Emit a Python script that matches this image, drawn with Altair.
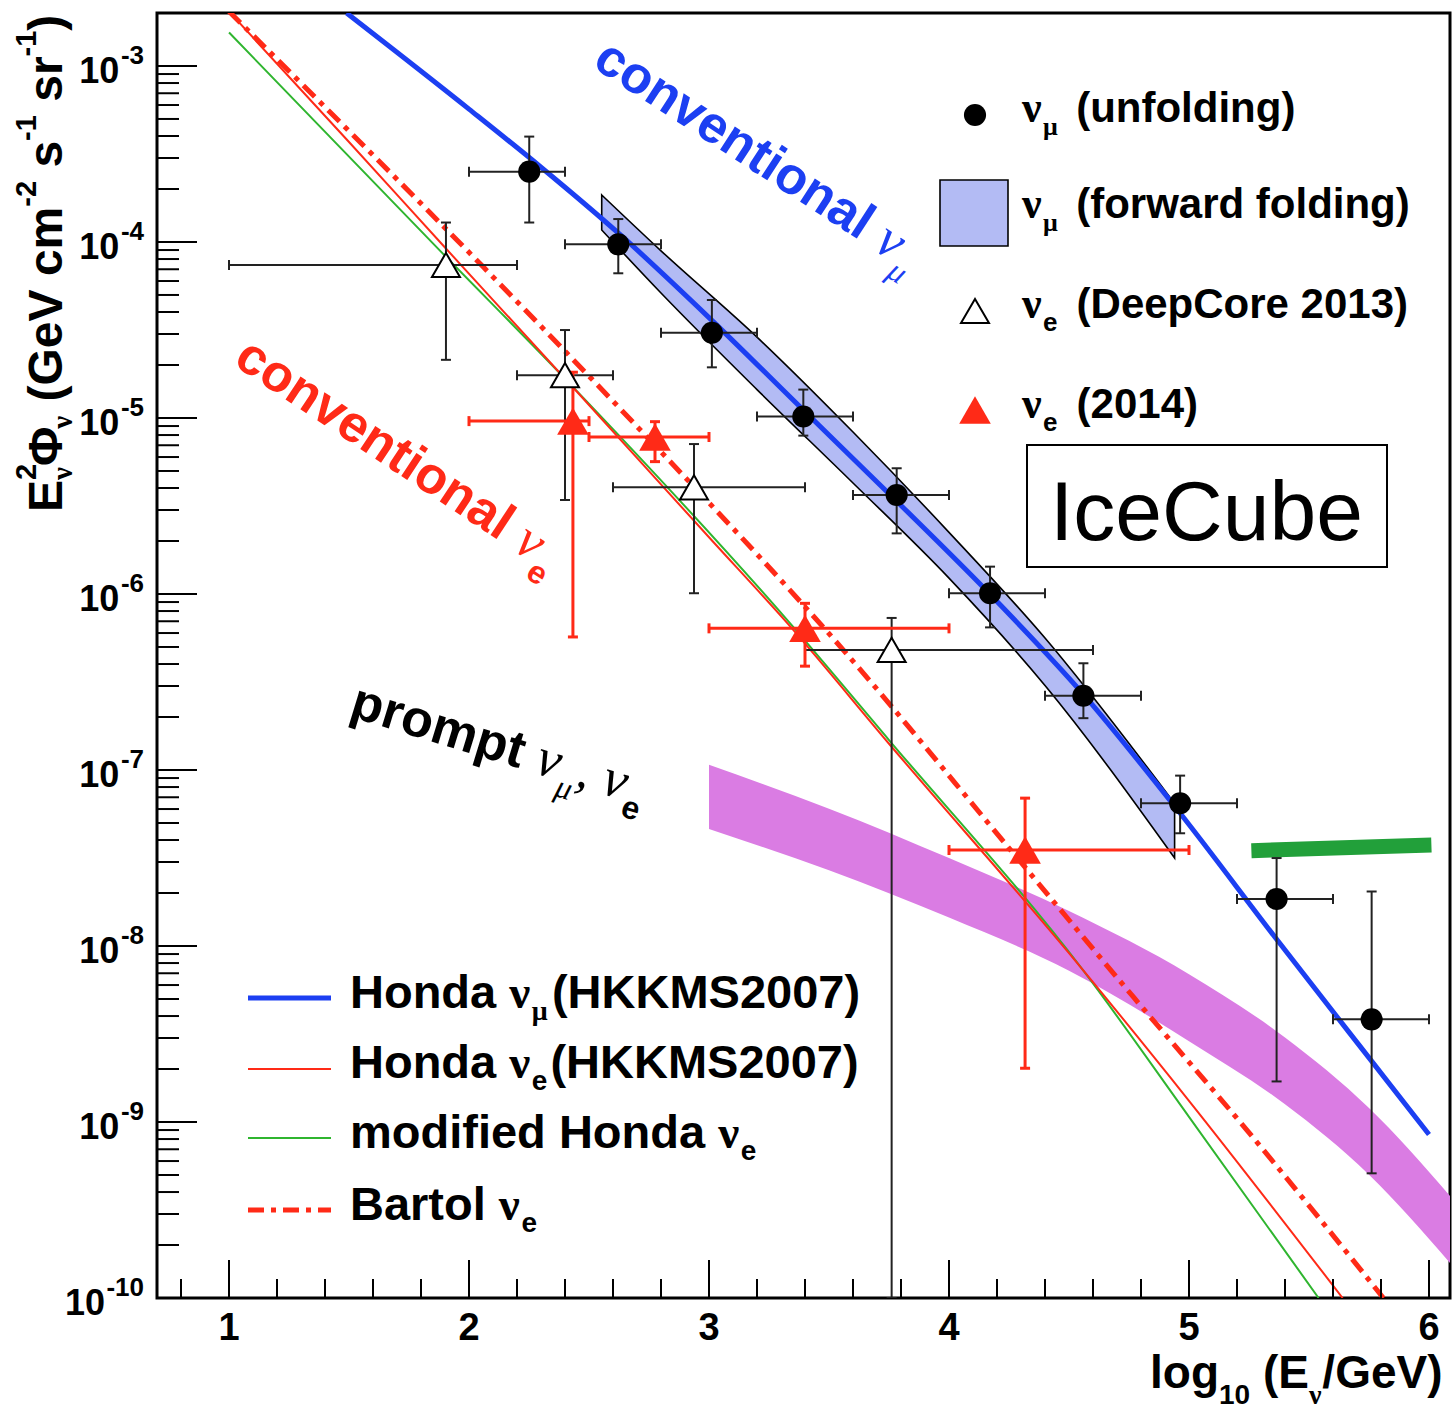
import math
import altair as alt
import pandas as pd

# ---------------------------------------------------------------------------
# Data: x is log10(E/GeV), y is E^2 * Phi in GeV cm^-2 s^-1 sr^-1
# ---------------------------------------------------------------------------
honda_numu_logE = [1.49, 2.0, 2.3, 2.63, 3.0, 3.39, 3.78, 4.17, 4.56, 4.96, 5.37, 5.73, 6.0]
honda_numu_flux = [2.0e-3, 5.69e-4, 2.66e-4, 1.10e-4, 3.72e-5, 1.12e-5, 3.39e-6, 1.0e-6,
                   2.69e-7, 5.75e-8, 1.07e-8, 2.51e-9, 8.5e-10]

honda_nue_logE = [1.0, 1.5, 1.9, 2.43, 3.0, 3.34, 3.75, 4.5, 5.0, 5.64]
honda_nue_flux = [2.04e-3, 3.7e-4, 9.3e-5, 1.51e-5, 2.1e-6, 6.5e-7, 1.41e-7, 9.1e-9, 1.32e-9, 1.0e-10]

mod_honda_nue_logE = [1.0, 1.88, 2.41, 3.34, 3.75, 4.56, 5.0, 5.54]
mod_honda_nue_flux = [1.55e-3, 8.9e-5, 1.62e-5, 6.76e-7, 1.48e-7, 7.24e-9, 1.07e-9, 1.0e-10]

bartol_nue_logE = [1.0, 2.06, 2.73, 3.56, 4.25, 4.77, 5.25, 5.81]
bartol_nue_flux = [2.04e-3, 7.2e-5, 8.1e-6, 4.8e-7, 3.6e-8, 5.1e-9, 8.7e-10, 1.0e-10]

# nu_mu forward folding band
ff_logE = [2.553, 2.8, 3.2, 3.6, 4.0, 4.4, 4.94]
ff_hi = [1.85e-4, 8.91e-5, 2.88e-5, 8.32e-6, 2.24e-6, 5.62e-7, 6.46e-8]
ff_lo = [1.17e-4, 5.13e-5, 1.45e-5, 4.27e-6, 1.23e-6, 3.02e-7, 3.16e-8]

# prompt nu_mu, nu_e band
prompt_logE = [3.0, 3.5, 4.0, 4.5, 5.0, 5.4, 5.75, 6.0875]
prompt_hi = [1.07e-7, 6.03e-8, 3.16e-8, 1.58e-8, 6.92e-9, 3.02e-9, 1.20e-9, 3.80e-10]
prompt_lo = [4.62e-8, 2.69e-8, 1.45e-8, 7.24e-9, 2.88e-9, 1.26e-9, 5.01e-10, 1.58e-10]

# thick green segment
green_logE = [5.26, 6.01]
green_flux = [3.48e-8, 3.75e-8]

# nu_mu unfolding
unf_logE = [2.251, 2.622, 3.012, 3.393, 3.782, 4.171, 4.56, 4.963, 5.365, 5.761]
unf_flux = [2.51e-4, 9.7e-5, 3.05e-5, 1.02e-5, 3.65e-6, 1.01e-6, 2.64e-7, 6.47e-8, 1.85e-8, 3.83e-9]
unf_xlo = [2.0, 2.4, 2.8, 3.2, 3.6, 4.0, 4.4, 4.8, 5.2, 5.6]
unf_xhi = [2.4, 2.8, 3.2, 3.6, 4.0, 4.4, 4.8, 5.2, 5.6, 6.0]
unf_flo = [1.29e-4, 6.64e-5, 1.94e-5, 7.94e-6, 2.21e-6, 6.46e-7, 1.97e-7, 4.37e-8, 1.70e-9, 5.11e-10]
unf_fhi = [3.97e-4, 1.35e-4, 4.68e-5, 1.45e-5, 5.18e-6, 1.43e-6, 4.04e-7, 9.29e-8, 3.16e-8, 2.04e-8]

# nu_e DeepCore 2013
dc_logE = [1.904, 2.40, 2.9375, 3.761]
dc_flux = [7.4e-5, 1.75e-5, 4.04e-6, 4.81e-7]
dc_xlo = [1.0, 2.2, 2.6, 3.4]
dc_xhi = [2.2, 2.6, 3.4, 4.6]
dc_flo = [2.14e-5, 3.42e-6, 1.01e-6, 1.0e-10]
dc_fhi = [1.29e-4, 3.16e-5, 7.11e-6, 7.31e-7]

# nu_e 2014
e14_logE = [2.433, 2.775, 3.40, 4.317]
e14_flux = [9.6e-6, 7.8e-6, 6.38e-7, 3.51e-8]
e14_xlo = [2.0, 2.5, 3.0, 4.0]
e14_xhi = [2.5, 3.0, 4.0, 5.0]
e14_flo = [5.70e-7, 5.65e-6, 3.89e-7, 2.02e-9]
e14_fhi = [1.82e-5, 9.53e-6, 8.85e-7, 6.92e-8]

x_tick_labels = ["1", "2", "3", "4", "5", "6"]
y_tick_exponents = [-3, -4, -5, -6, -7, -8, -9, -10]

# ---------------------------------------------------------------------------
# Geometry and styles
# ---------------------------------------------------------------------------
OX, OY = 157, 13          # plot origin inside the canvas
W, H = 1293, 1285         # plot area

BLUE = "#1c3ff2"
RED = "#ff2a17"
GREEN = "#2fb52f"
GREEN_BAR = "#22a03a"
FF_FILL = "#b3bbf4"
PROMPT_FILL = "#da7ce3"

xs = alt.Scale(domain=[0.7, 6.0875], nice=False, zero=False)
ys = alt.Scale(type="log", domain=[1e-10, 2e-3], nice=False)


def X(field):
    return alt.X(field, type="quantitative", scale=xs, axis=None)


def Y(field):
    return alt.Y(field, type="quantitative", scale=ys, axis=None)


def PX(field):
    return alt.X(field, type="quantitative", scale=None)


def PY(field):
    return alt.Y(field, type="quantitative", scale=None)


# character advance widths (per 1000 em)
SANS_BOLD = {' ': 278, '(': 333, ')': 333, ',': 278, '-': 333, '.': 278, '/': 278,
             'A': 722, 'B': 722, 'C': 722, 'D': 722, 'E': 667, 'G': 778, 'H': 722,
             'I': 278, 'K': 722, 'M': 833, 'S': 667, 'V': 667,
             'a': 556, 'b': 611, 'c': 556, 'd': 611, 'e': 556, 'f': 333, 'g': 611,
             'h': 611, 'i': 278, 'l': 278, 'm': 889, 'n': 611, 'o': 611, 'p': 611,
             'r': 389, 's': 556, 't': 333, 'u': 611, 'v': 556, 'w': 778,
             'ν': 556, 'μ': 611, 'Φ': 778}
for d in "0123456789":
    SANS_BOLD[d] = 556
SANS = {'I': 278, 'c': 500, 'e': 556, 'C': 722, 'u': 556, 'b': 556}
SERIF = {'ν': 480, 'μ': 540, ',': 250, ' ': 250}

STYLES = {
    "sb": dict(font="Liberation Sans", fontWeight="bold", fontStyle="normal", w=SANS_BOLD),
    "sr": dict(font="Liberation Sans", fontWeight="normal", fontStyle="normal", w=SANS),
    "gi": dict(font="Liberation Serif", fontWeight="normal", fontStyle="italic", w=SERIF),
    "gu": dict(font="Liberation Serif", fontWeight="bold", fontStyle="normal", w=SERIF),
}


def text_width(s, style, size):
    table = STYLES[style]["w"]
    return sum(table.get(ch, 556) for ch in s) / 1000.0 * size


def runs(x0, y0, angle, parts, color):
    """Lay out a run of text pieces along a (possibly rotated) baseline.

    parts: (text, size, shift, style[, advance]) with shift > 0 moving the
    piece down (subscript) and shift < 0 up (superscript)."""
    th = math.radians(angle)
    ux, uy = math.cos(th), math.sin(th)
    dx, dy = -math.sin(th), math.cos(th)
    adv = 0.0
    out = []
    for p in parts:
        text, size, shift, style = p[:4]
        if len(p) > 4:
            step = p[4]
        else:
            step = text_width(text, style, size)
        lead = len(text) - len(text.lstrip(" "))
        start = adv + text_width(" " * lead, style, size)
        body = text.strip(" ")
        if body:
            out.append(dict(t=body, x=x0 + start * ux + shift * dx - OX,
                            y=y0 + start * uy + shift * dy - OY,
                            s=size, a=angle % 360, c=color, st=style))
        adv += step
    return out


# ---------------------------------------------------------------------------
# Curves and bands
# ---------------------------------------------------------------------------
def curve(logE, flux, color, width, dash=None):
    df = pd.DataFrame({"e": logE, "f": flux})
    kw = dict(color=color, strokeWidth=width, interpolate="monotone", clip=True)
    if dash:
        kw["strokeDash"] = dash
    return alt.Chart(df).mark_line(**kw).encode(x=X("e"), y=Y("f"))


def band(logE, hi, lo, fill, stroke=None):
    df = pd.DataFrame({"e": logE, "hi": hi, "lo": lo})
    kw = dict(fill=fill, opacity=1, interpolate="monotone", clip=True)
    if stroke:
        kw.update(stroke=stroke, strokeWidth=1.6)
    return alt.Chart(df).mark_area(**kw).encode(x=X("e"), y=Y("hi"), y2=alt.Y2("lo"))


def errbars(e, f, xlo, xhi, flo, fhi, color, width, cap):
    df = pd.DataFrame(dict(e=e, f=f, xlo=xlo, xhi=xhi, flo=flo, fhi=fhi))
    h = alt.Chart(df).mark_rule(color=color, strokeWidth=width).encode(
        x=X("xlo"), x2=alt.X2("xhi"), y=Y("f"))
    v = alt.Chart(df).mark_rule(color=color, strokeWidth=width, clip=True).encode(
        x=X("e"), y=Y("flo"), y2=alt.Y2("fhi"))
    caps_v = pd.DataFrame({"x": list(xlo) + list(xhi), "f": list(f) + list(f)})
    caps_h = pd.DataFrame({"e": list(e) + list(e), "y": list(flo) + list(fhi)})
    cv = alt.Chart(caps_v).mark_tick(orient="vertical", size=cap, thickness=width,
                                     color=color, opacity=1).encode(x=X("x"), y=Y("f"))
    ch = alt.Chart(caps_h).mark_tick(orient="horizontal", size=cap, thickness=width,
                                     color=color, opacity=1, clip=True).encode(x=X("e"), y=Y("y"))
    return [h, v, cv, ch]


layers = []
layers.append(band(prompt_logE, prompt_hi, prompt_lo, PROMPT_FILL))
layers.append(band(ff_logE, ff_hi, ff_lo, FF_FILL, stroke="black"))
layers.append(curve(mod_honda_nue_logE, mod_honda_nue_flux, GREEN, 2))
layers.append(curve(honda_nue_logE, honda_nue_flux, RED, 2))
layers.append(curve(bartol_nue_logE, bartol_nue_flux, RED, 5, dash=[16, 7, 5, 7]))
layers.append(curve(honda_numu_logE, honda_numu_flux, BLUE, 5))
layers.append(alt.Chart(pd.DataFrame({"e": green_logE, "f": green_flux}))
              .mark_line(color=GREEN_BAR, strokeWidth=15, strokeCap="butt")
              .encode(x=X("e"), y=Y("f")))

layers += errbars(unf_logE, unf_flux, unf_xlo, unf_xhi, unf_flo, unf_fhi, "#222222", 2, 10)
layers += errbars(dc_logE, dc_flux, dc_xlo, dc_xhi, dc_flo, dc_fhi, "#222222", 2, 10)
layers += errbars(e14_logE, e14_flux, e14_xlo, e14_xhi, e14_flo, e14_fhi, RED, 3, 10)

layers.append(alt.Chart(pd.DataFrame({"e": unf_logE, "f": unf_flux}))
              .mark_point(shape="circle", filled=True, size=490, color="black", opacity=1)
              .encode(x=X("e"), y=Y("f")))
layers.append(alt.Chart(pd.DataFrame({"e": dc_logE, "f": dc_flux}))
              .mark_point(shape="triangle-up", filled=True, fill="white", stroke="black",
                          strokeWidth=2, size=784, opacity=1)
              .encode(x=X("e"), y=Y("f")))
layers.append(alt.Chart(pd.DataFrame({"e": e14_logE, "f": e14_flux}))
              .mark_point(shape="triangle-up", filled=True, color=RED, size=1000, opacity=1)
              .encode(x=X("e"), y=Y("f")))

# ---------------------------------------------------------------------------
# Axes: inward ticks and labels
# ---------------------------------------------------------------------------
y_major = [10.0 ** k for k in range(-9, -2)]
y_minor = [m * 10.0 ** k for k in range(-10, -2) for m in range(2, 10) if m * 10.0 ** k < 2e-3]
x_major = [1, 2, 3, 4, 5, 6]
x_minor = [round(0.8 + 0.2 * i, 1) for i in range(27) if abs((0.8 + 0.2 * i) - round(0.8 + 0.2 * i)) > 1e-6]

layers.append(alt.Chart(pd.DataFrame({"v": y_major})).mark_rule(color="black", strokeWidth=2)
              .encode(y=Y("v"), x=alt.value(0), x2=alt.value(40)))
layers.append(alt.Chart(pd.DataFrame({"v": y_minor})).mark_rule(color="black", strokeWidth=2)
              .encode(y=Y("v"), x=alt.value(0), x2=alt.value(22)))
layers.append(alt.Chart(pd.DataFrame({"v": x_major})).mark_rule(color="black", strokeWidth=2)
              .encode(x=X("v"), y=alt.value(H), y2=alt.value(H - 38)))
layers.append(alt.Chart(pd.DataFrame({"v": x_minor})).mark_rule(color="black", strokeWidth=2)
              .encode(x=X("v"), y=alt.value(H), y2=alt.value(H - 19)))

layers.append(alt.Chart(pd.DataFrame({"v": x_major, "t": x_tick_labels}))
              .mark_text(font="Liberation Sans", fontWeight="bold", fontSize=38,
                         align="center", baseline="alphabetic")
              .encode(x=X("v"), y=alt.value(H + 42), text="t:N"))

EXP_SIZE, TEN_SIZE = 26, 36
ylab = []
for k in y_tick_exponents:
    ex = str(k)
    w_exp = text_width(ex, "sb", EXP_SIZE)
    ylab.append(dict(v=10.0 ** k, ten="10", ex=ex, xt=-13 - w_exp - 1.5, xe=-13))
ylab_df = pd.DataFrame(ylab)
layers.append(alt.Chart(ylab_df)
              .mark_text(font="Liberation Sans", fontWeight="bold", fontSize=TEN_SIZE,
                         align="right", baseline="alphabetic", dy=17)
              .encode(x=PX("xt"), y=Y("v"), text="ten:N"))
layers.append(alt.Chart(ylab_df)
              .mark_text(font="Liberation Sans", fontWeight="bold", fontSize=EXP_SIZE,
                         align="right", baseline="alphabetic", dy=-2)
              .encode(x=PX("xe"), y=Y("v"), text="ex:N"))

# ---------------------------------------------------------------------------
# Boxes and legend symbols (pixel space)
# ---------------------------------------------------------------------------
icecube_box = pd.DataFrame([dict(x1=1027 - OX, x2=1387 - OX, y1=445 - OY, y2=567 - OY)])
layers.append(alt.Chart(icecube_box).mark_rect(fill="white", stroke="black", strokeWidth=2)
              .encode(x=PX("x1"), x2=alt.X2("x2"), y=PY("y1"), y2=alt.Y2("y2")))

ff_key = pd.DataFrame([dict(x1=940 - OX, x2=1008 - OX, y1=180 - OY, y2=246 - OY)])
layers.append(alt.Chart(ff_key).mark_rect(fill=FF_FILL, stroke="black", strokeWidth=1.6)
              .encode(x=PX("x1"), x2=alt.X2("x2"), y=PY("y1"), y2=alt.Y2("y2")))

layers.append(alt.Chart(pd.DataFrame([dict(x=975 - OX, y=115 - OY)]))
              .mark_point(shape="circle", filled=True, size=490, color="black", opacity=1)
              .encode(x=PX("x"), y=PY("y")))
layers.append(alt.Chart(pd.DataFrame([dict(x=975 - OX, y=311 - OY)]))
              .mark_point(shape="triangle-up", filled=True, fill="white", stroke="black",
                          strokeWidth=2, size=784, opacity=1)
              .encode(x=PX("x"), y=PY("y")))
layers.append(alt.Chart(pd.DataFrame([dict(x=975 - OX, y=410 - OY)]))
              .mark_point(shape="triangle-up", filled=True, color=RED, size=1000, opacity=1)
              .encode(x=PX("x"), y=PY("y")))

key_lines = [
    dict(x1=248 - OX, x2=331 - OX, y=998 - OY, c=BLUE, w=5, dash=None),
    dict(x1=248 - OX, x2=331 - OX, y=1069 - OY, c=RED, w=2, dash=None),
    dict(x1=248 - OX, x2=331 - OX, y=1138 - OY, c=GREEN, w=2, dash=None),
    dict(x1=248 - OX, x2=331 - OX, y=1210 - OY, c=RED, w=5, dash=[16, 7, 5, 7]),
]
for kl in key_lines:
    kw = dict(color=kl["c"], strokeWidth=kl["w"])
    if kl["dash"]:
        kw["strokeDash"] = kl["dash"]
    layers.append(alt.Chart(pd.DataFrame([kl])).mark_rule(**kw)
                  .encode(x=PX("x1"), x2=alt.X2("x2"), y=PY("y")))

# ---------------------------------------------------------------------------
# Text
# ---------------------------------------------------------------------------
rows = []
# y axis title
rows += runs(62, 512, 270, [
    ("E", 48, 0, "sb"), ("2", 29, -26, "sb", 0), ("ν", 29, 10, "gu"),
    ("Φ", 48, 0, "sb"), ("ν", 29, 10, "gu"),
    (" (GeV cm", 48, 0, "sb"), ("-2", 29, -26, "sb"),
    (" s", 48, 0, "sb"), ("-1", 29, -26, "sb"),
    (" sr", 48, 0, "sb"), ("-1", 29, -26, "sb"), (")", 48, 0, "sb")], "black")
# x axis title
rows += runs(1150, 1388, 0, [
    ("log", 46, 0, "sb"), ("10", 28, 16, "sb"), (" (E", 46, 0, "sb"),
    ("ν", 28, 16, "gu"), ("/GeV)", 46, 0, "sb")], "black")

# upper right key
for base, sub, sub_style, label in [(122, "μ", "gu", "(unfolding)"),
                                    (218, "μ", "gu", "(forward folding)"),
                                    (318, "e", "sb", "(DeepCore 2013)"),
                                    (418, "e", "sb", "(2014)")]:
    rows += runs(1022, base, 0, [("ν", 44, 0, "gu"), (sub, 26, 13, sub_style),
                                 ("", 0, 0, "sb", 19), (label, 42, 0, "sb")], "black")

# lower left key
rows += runs(350, 1008, 0, [("Honda ", 47, 0, "sb"), ("ν", 47, 0, "gu"), ("μ", 28, 12, "gu"),
                            ("", 0, 0, "sb", 5), ("(HKKMS2007)", 47, 0, "sb")], "black")
rows += runs(350, 1078, 0, [("Honda ", 47, 0, "sb"), ("ν", 47, 0, "gu"), ("e", 28, 12, "sb"),
                            ("", 0, 0, "sb", 3), ("(HKKMS2007)", 47, 0, "sb")], "black")
rows += runs(350, 1148, 0, [("modified Honda ", 47, 0, "sb"), ("ν", 47, 0, "gu"),
                            ("e", 28, 12, "sb")], "black")
rows += runs(350, 1220, 0, [("Bartol ", 47, 0, "sb"), ("ν", 47, 0, "gu"),
                            ("e", 28, 12, "sb")], "black")

# curve annotations
rows += runs(591, 66, 33, [("conventional", 52, 0, "sb"), (" ", 52, 0, "sb"),
                           ("ν", 54, 0, "gi"), ("μ", 32, 16, "gi")], BLUE)
rows += runs(232, 364, 33.5, [("conventional", 52, 0, "sb"), (" ", 52, 0, "sb"),
                              ("ν", 54, 0, "gi"), ("e", 32, 16, "sb")], RED)
rows += runs(348, 716, 17, [("prompt", 52, 0, "sb"), (" ", 52, 0, "sb"),
                            ("ν", 54, 0, "gi"), ("μ", 32, 16, "gi"), (",", 52, 0, "gi"),
                            (" ", 52, 0, "gi"), ("ν", 54, 0, "gi"), ("e", 32, 16, "sb")], "black")
# experiment label
rows += runs(1050, 540, 0, [("IceCube", 84, 0, "sr")], "black")

text_df = pd.DataFrame(rows)
for st, grp in text_df.groupby("st"):
    spec = STYLES[st]
    layers.append(alt.Chart(grp.drop(columns=["st"]))
                  .mark_text(font=spec["font"], fontWeight=spec["fontWeight"],
                             fontStyle=spec["fontStyle"], align="left", baseline="alphabetic")
                  .encode(x=PX("x"), y=PY("y"), text="t:N",
                          size=alt.Size("s:Q", scale=None),
                          angle=alt.Angle("a:Q", scale=None),
                          color=alt.Color("c:N", scale=None)))

chart = (alt.layer(*layers)
         .properties(width=W, height=H, background="white",
                     padding={"left": OX, "top": OY, "right": 1454 - OX - W, "bottom": 1410 - OY - H},
                     autosize=alt.AutoSizeParams(type="none"))
         .configure_view(stroke="black", strokeWidth=3))

chart.save("out.html", embed_options={"renderer": "svg", "actions": False})
